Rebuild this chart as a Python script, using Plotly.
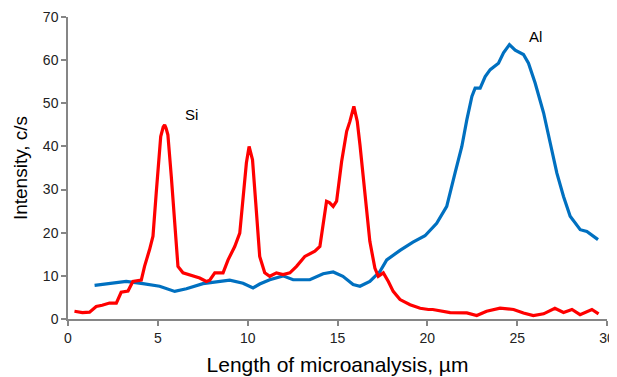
import plotly.graph_objects as go

# Si (red) profile
si_x = [0.36, 0.8, 1.2, 1.57, 1.9, 2.31, 2.69, 2.96, 3.34, 3.61, 4.08, 4.26, 4.54, 4.73, 4.91,
        5.04, 5.16, 5.3, 5.38, 5.46, 5.56, 5.75, 5.94, 6.12, 6.4, 6.96, 7.33, 7.7, 7.89, 8.17,
        8.63, 8.91, 9.28, 9.56, 9.74, 9.93, 10.08, 10.27, 10.45, 10.67, 10.95, 11.23, 11.6,
        11.97, 12.35, 12.72, 13.18, 13.74, 14.02, 14.2, 14.39, 14.55, 14.76, 14.95, 15.23,
        15.51, 15.69, 15.91, 16.1, 16.25, 16.43, 16.62, 16.8, 17.08, 17.27, 17.55, 17.83,
        18.1, 18.48, 19.04, 19.6, 20.06, 20.3, 21.27, 22.2, 22.75, 23.3, 24.05, 24.8, 25.35,
        25.9, 26.47, 27.1, 27.58, 28.05, 28.5, 29.16, 29.53]
si_y = [1.8, 1.5, 1.6, 2.9, 3.2, 3.7, 3.7, 6.2, 6.5, 8.7, 9.0, 12.2, 16.1, 19.2, 29.2,
        36.9, 42.3, 44.5, 45.0, 44.2, 42.7, 33.0, 23.0, 12.2, 10.7, 9.9, 9.5, 8.7, 9.0, 10.7,
        10.7, 13.7, 16.8, 19.9, 28.4, 36.2, 40.0, 36.9, 26.9, 14.5, 10.7, 9.9, 10.7,
        10.3, 10.7, 12.2, 14.5, 15.7, 16.8, 21.5, 27.3, 27.0, 26.1, 27.3, 36.5,
        43.5, 45.8, 49.3, 45.8, 40.4, 32.7, 24.2, 18.0, 11.8, 9.9, 10.7, 8.7,
        6.4, 4.5, 3.3, 2.5, 2.2, 2.2, 1.5, 1.4, 0.8, 1.8, 2.5, 2.2, 1.4,
        0.8, 1.2, 2.5, 1.5, 2.2, 1.0, 2.2, 1.2]

# Al (blue) profile
al_x = [1.48, 2.31, 3.24, 4.17, 5.1, 5.94, 6.59, 7.51, 8.35, 9.0, 9.74, 10.3, 10.67, 11.23,
        11.97, 12.53, 13.46, 14.2, 14.76, 15.3, 15.87, 16.25, 16.8, 17.36, 17.74, 18.48,
        19.2, 19.87, 20.52, 21.08, 21.54, 21.92, 22.2, 22.48, 22.66, 22.94, 23.22, 23.5,
        23.96, 24.24, 24.57, 24.89, 25.35, 25.63, 26.0, 26.47, 26.84, 27.21, 27.58, 27.95,
        28.51, 28.88, 29.5]
al_y = [7.8, 8.3, 8.7, 8.2, 7.6, 6.4, 7.0, 8.2, 8.6, 9.0, 8.3, 7.2, 8.1, 9.1,
        10.0, 9.1, 9.1, 10.5, 10.9, 9.9, 8.0, 7.6, 8.7, 11.0, 13.7, 15.9,
        17.8, 19.3, 22.2, 26.1, 33.8, 40.0, 46.2, 51.6, 53.5, 53.5, 56.2, 57.8,
        59.3, 61.7, 63.6, 62.3, 61.3, 59.3, 54.7, 47.8, 40.8, 33.8, 28.4, 23.8,
        20.7, 20.3, 18.4]

x_ticks = [0, 5, 10, 15, 20, 25, 30]
y_ticks = [0, 10, 20, 30, 40, 50, 60, 70]

labels = ["Si", "Al"]
label_x = [6.9, 26.0]
label_y = [47.4, 65.4]

FONT = "Liberation Sans, Arial"

fig = go.Figure()
fig.add_trace(go.Scatter(x=al_x, y=al_y, mode="lines", name="Al",
                         line=dict(color="#0070C0", width=3.2)))
fig.add_trace(go.Scatter(x=si_x, y=si_y, mode="lines", name="Si",
                         line=dict(color="#FF0000", width=3.2)))

for t, lx, ly in zip(labels, label_x, label_y):
    fig.add_annotation(x=lx, y=ly, text=t, showarrow=False,
                       font=dict(family=FONT, size=15, color="#000000"))

axis_common = dict(showgrid=False, zeroline=False, showline=True, linecolor="#868686",
                   linewidth=1.5, ticks="outside", ticklen=5, tickwidth=1.5,
                   tickcolor="#868686",
                   tickfont=dict(family=FONT, size=14, color="#222222"))

fig.update_layout(
    width=609, height=369,
    margin=dict(l=60, r=10, t=9, b=58, autoexpand=False),
    plot_bgcolor="white", paper_bgcolor="white",
    showlegend=False,
    xaxis=dict(range=[0, 30], tickvals=x_ticks,
               title=dict(text="Length of microanalysis, µm", standoff=13,
                          font=dict(family=FONT, size=21, color="#000000")),
               **axis_common),
    yaxis=dict(range=[0, 70], tickvals=y_ticks,
               title=dict(text="Intensity, c/s", standoff=10,
                          font=dict(family=FONT, size=19, color="#000000")),
               **axis_common),
)

fig.write_html("out.html")
